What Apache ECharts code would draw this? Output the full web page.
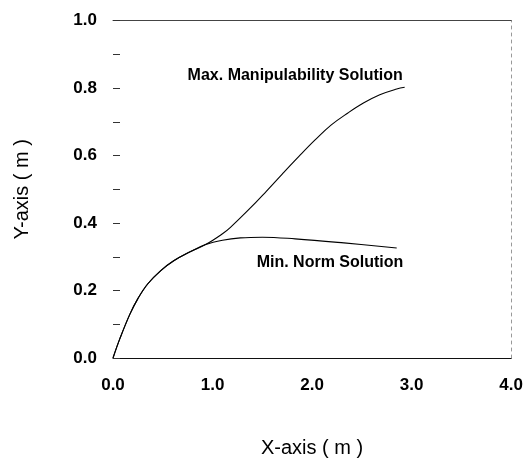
<!DOCTYPE html>
<html>
<head>
<meta charset="utf-8">
<script src="https://cdn.jsdelivr.net/npm/echarts@6/dist/echarts.min.js"></script>
<style>
html,body{margin:0;padding:0;background:#fff;}
#chart{width:526px;height:463px;}
</style>
</head>
<body>
<div id="chart"></div>
<script>
// Data
const maxX = [0, 0.07, 0.17, 0.25, 0.35, 0.48, 0.61, 0.77, 0.93, 1.1, 1.18, 1.375, 1.54, 1.70, 1.87, 2.03, 2.19, 2.36, 2.52, 2.68, 2.85, 2.93];
const maxY = [0, 0.058, 0.130, 0.176, 0.220, 0.259, 0.288, 0.314, 0.336, 0.368, 0.387, 0.443, 0.494, 0.545, 0.598, 0.646, 0.690, 0.726, 0.756, 0.780, 0.797, 0.802];
const minX = [0, 0.07, 0.17, 0.25, 0.35, 0.48, 0.61, 0.77, 0.93, 1.1, 1.28, 1.5, 1.83, 2.32, 2.85];
const minY = [0, 0.058, 0.130, 0.176, 0.220, 0.259, 0.288, 0.314, 0.336, 0.349, 0.356, 0.358, 0.353, 0.341, 0.326];
const seriesNames = ['Max. Manipulability Solution', 'Min. Norm Solution'];
const xTitle = 'X-axis ( m )';
const yTitle = 'Y-axis ( m )';

const FONT = '"Liberation Sans", Arial, sans-serif';
const pairs = (xs, ys) => xs.map((x, i) => [x, ys[i]]);

const chart = echarts.init(document.getElementById('chart'));
chart.setOption({
  animation: false,
  backgroundColor: '#fff',
  grid: { left: 113, right: 3, top: 20.5, bottom: 104.5 },
  xAxis: [{
    type: 'value', min: 0, max: 4, interval: 1,
    name: xTitle, nameLocation: 'middle', nameGap: 80,
    nameTextStyle: { fontFamily: FONT, fontSize: 20, color: '#000' },
    axisLine: { show: true, onZero: false, lineStyle: { color: '#111', width: 1 } },
    axisTick: { show: false },
    splitLine: { show: false },
    axisLabel: { fontFamily: FONT, fontSize: 17, fontWeight: 'bold', color: '#000', margin: 19,
      formatter: v => v.toFixed(1) }
  }, {
    type: 'value', min: 0, max: 4, position: 'top',
    axisLine: { show: true, onZero: false, lineStyle: { color: '#444', width: 1 } },
    axisTick: { show: false }, axisLabel: { show: false }, splitLine: { show: false }
  }],
  yAxis: [{
    type: 'value', min: 0, max: 1, interval: 0.1,
    name: yTitle, nameLocation: 'middle', nameGap: 81,
    nameTextStyle: { fontFamily: FONT, fontSize: 20, color: '#000' },
    axisLine: { show: false, onZero: false },
    axisTick: { show: true, inside: true, length: 7, lineStyle: { color: '#333' } },
    splitLine: { show: false },
    axisLabel: { fontFamily: FONT, fontSize: 17, fontWeight: 'bold', color: '#000', margin: 16,
      formatter: v => (Math.round(v * 10) % 2 === 0 ? v.toFixed(1) : '') }
  }, {
    type: 'value', min: 0, max: 1, position: 'right',
    axisLine: { show: true, onZero: false, lineStyle: { color: '#999', width: 1, type: [3, 4] } },
    axisTick: { show: false }, axisLabel: { show: false }, splitLine: { show: false }
  }],
  series: [{
    name: seriesNames[0], type: 'line', data: pairs(maxX, maxY),
    smooth: 0.4, showSymbol: false, symbol: 'none',
    lineStyle: { color: '#000', width: 1.1 },
    markPoint: {
      symbol: 'circle', symbolSize: 1, itemStyle: { color: 'rgba(0,0,0,0)' },
      label: { show: true, position: 'inside', fontFamily: FONT, fontSize: 16, fontWeight: 'bold',
        color: '#000', formatter: seriesNames[0] },
      data: [{ coord: [1.83, 0.836] }]
    }
  }, {
    name: seriesNames[1], type: 'line', data: pairs(minX, minY),
    smooth: 0.4, showSymbol: false, symbol: 'none',
    lineStyle: { color: '#000', width: 1.1 },
    markPoint: {
      symbol: 'circle', symbolSize: 1, itemStyle: { color: 'rgba(0,0,0,0)' },
      label: { show: true, position: 'inside', fontFamily: FONT, fontSize: 16, fontWeight: 'bold',
        color: '#000', formatter: seriesNames[1] },
      data: [{ coord: [2.18, 0.283] }]
    }
  }]
});
</script>
</body>
</html>
